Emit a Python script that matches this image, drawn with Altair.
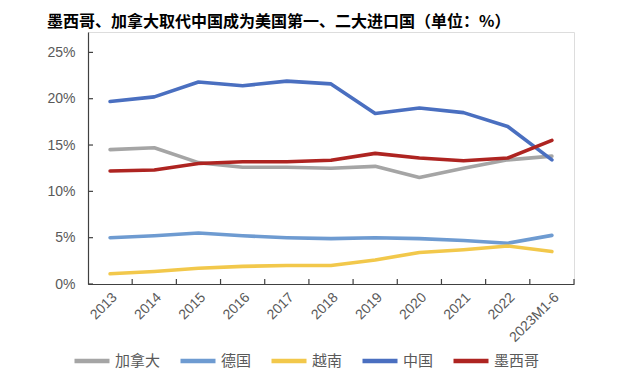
import altair as alt
import pandas as pd

years = ["2013", "2014", "2015", "2016", "2017", "2018", "2019", "2020", "2021", "2022", "2023M1-6"]
series = ["加拿大", "德国", "越南", "中国", "墨西哥"]
canada = [14.5, 14.7, 13.1, 12.6, 12.6, 12.5, 12.7, 11.5, 12.5, 13.4, 13.8]
germany = [5.0, 5.2, 5.5, 5.2, 5.0, 4.9, 5.0, 4.9, 4.7, 4.4, 5.25]
vietnam = [1.1, 1.35, 1.7, 1.9, 2.0, 2.0, 2.6, 3.4, 3.7, 4.1, 3.5]
china = [19.7, 20.2, 21.8, 21.4, 21.9, 21.6, 18.4, 19.0, 18.5, 17.0, 13.4]
mexico = [12.2, 12.3, 13.0, 13.2, 13.2, 13.35, 14.1, 13.6, 13.3, 13.6, 15.5]
colors = ["#A5A5A5", "#6E9BD1", "#F2C84B", "#4A6FC0", "#AE2421"]
ytick_values = [0, 5, 10, 15, 20, 25]

values = [canada, germany, vietnam, china, mexico]
rows = []
for s, vals in zip(series, values):
    for y, v in zip(years, vals):
        rows.append({"year": y, "series": s, "value": v})
df = pd.DataFrame(rows)

W, H = 486, 252
AXIS_COLOR = "#404040"
LABEL_COLOR = "#595959"

x_scale = alt.Scale(type="band", domain=years, paddingInner=0, paddingOuter=0)
y_scale = alt.Scale(domain=[0, 27.2], nice=False, zero=True)

x_axis = alt.Axis(title=None, labelAngle=-45, labelAlign="right", labelBaseline="top",
                  labelFontSize=14, labelColor=LABEL_COLOR, labelFont="Liberation Sans",
                  domainColor=AXIS_COLOR, domainWidth=1.2, ticks=False, labelPadding=6,
                  grid=False)
y_axis = alt.Axis(title=None, values=ytick_values, labelExpr="datum.value + '%'",
                  labelFontSize=14, labelColor=LABEL_COLOR, labelFont="Liberation Sans",
                  domainColor=AXIS_COLOR, domainWidth=1.2, ticks=False, labelPadding=13,
                  grid=False)

lines = alt.Chart(df).mark_line(strokeWidth=3.6, strokeJoin="round", strokeCap="round").encode(
    x=alt.X("year:N", sort=years, scale=x_scale, axis=x_axis, bandPosition=0.5),
    y=alt.Y("value:Q", scale=y_scale, axis=y_axis),
    color=alt.Color("series:N", sort=series,
                    scale=alt.Scale(domain=series, range=colors),
                    legend=alt.Legend(title=None, orient="none", direction="horizontal",
                                      legendX=-16, legendY=309,
                                      symbolType="stroke", symbolSize=1225,
                                      symbolStrokeWidth=4.5, labelFontSize=15,
                                      labelColor=LABEL_COLOR, labelFont="Noto Sans CJK SC",
                                      labelOffset=3, columnPadding=10)),
)

xticks = alt.Chart(pd.DataFrame({"year": years})).mark_rule(color=AXIS_COLOR, strokeWidth=1.2).encode(
    x=alt.X("year:N", sort=years, scale=x_scale, axis=x_axis, bandPosition=1),
    y=alt.value(H),
    y2=alt.value(H - 5),
)

yticks = alt.Chart(pd.DataFrame({"v": ytick_values})).mark_rule(color=AXIS_COLOR, strokeWidth=1.2).encode(
    y=alt.Y("v:Q", scale=y_scale, axis=y_axis),
    x=alt.value(0),
    x2=alt.value(5),
)

chart = alt.layer(lines, xticks, yticks).properties(
    width=W,
    height=H,
    title=alt.TitleParams(
        "墨西哥、加拿大取代中国成为美国第一、二大进口国（单位：%）",
        anchor="start", dx=0, offset=2, fontSize=16, fontWeight="bold",
        font="Noto Sans CJK SC", color="#000000",
    ),
    autosize=alt.AutoSizeParams(type="none"),
    padding={"left": 80, "top": 24, "right": 58, "bottom": 86},
).configure_view(stroke=None).configure(background="white")

chart.save("out.html", embed_options={"renderer": "svg", "actions": False})
